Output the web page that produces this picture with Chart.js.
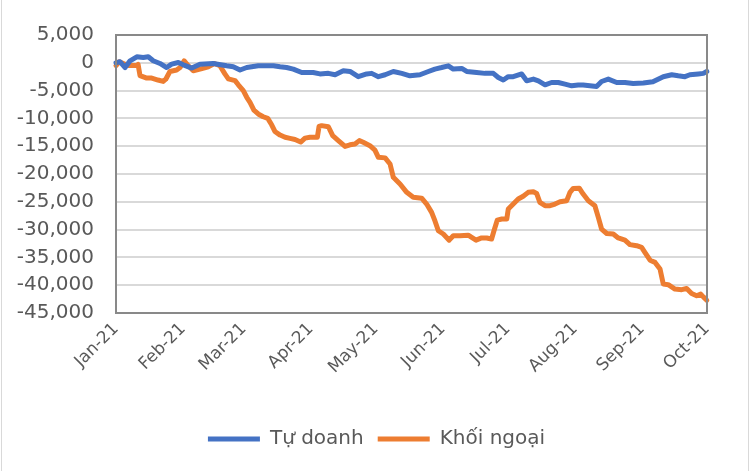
<!DOCTYPE html>
<html lang="vi">
<head>
    <meta charset="UTF-8">
    <title>Tự doanh vs Khối ngoại</title>
    <script src="https://cdn.jsdelivr.net/npm/chart.js"></script>
    <style>
        html, body { margin: 0; padding: 0; background: #fff; }
        #wrap { position: relative; width: 753px; height: 472px; }
        #wrap:before { content: ""; position: absolute; left: 1px; top: 0; width: 746px; height: 471px;
            border-left: 1px solid #d9d9d9; border-right: 1px solid #d9d9d9; pointer-events: none; }
    </style>
</head>
<body>
<div id="wrap"><canvas id="chart" width="753" height="472"></canvas></div>
<script>
// Month ticks (days since 1 Jan 2021) and their labels
const monthStarts = [0, 31, 59, 90, 120, 151, 181, 212, 243, 273];
const monthLabels = ["Jan-21", "Feb-21", "Mar-21", "Apr-21", "May-21", "Jun-21", "Jul-21", "Aug-21", "Sep-21", "Oct-21"];

// Tự doanh (blue), cumulative net value
const tuDoanhDays = [0, 1.8, 4.2, 6.5, 9.6, 12.6, 14.9, 17.2, 20.3, 23.4, 25.7, 28.8, 31.1, 35, 38.8, 44.9, 51.1, 54.2, 57.3, 60.4,
    65.7, 69.6, 72.7, 75.8, 78.8, 81.9, 85.8, 88.1, 91.1, 94.2, 98.1, 101.2, 105, 108.1, 111.9, 115.8, 118.1, 121.2, 124.3, 128.1,
    132, 135.8, 140.4, 144.3, 147.3, 150.4, 153.5, 155.8, 159.7, 162, 166.6, 170.4, 174.3, 176.6, 178.9, 181.2, 183.5, 187.4, 189.7, 192.8,
    195.1, 198.2, 201.2, 204.3, 207.4, 210.5, 213.5, 215.8, 218.9, 222, 224.3, 227.4, 231.3, 235.1, 238.9, 243.6, 248, 252.8, 256.7, 259.7,
    262.8, 265.1, 269, 271.3, 272.9];
const tuDoanh = [0, 200, -850, 360, 1080, 950, 1080, 360, -120, -850, -240, 60, -360, -950, -240, -120, -540, -720, -1300, -850,
    -540, -540, -540, -720, -850, -1130, -1750, -1750, -1750, -2000, -1900, -2150, -1440, -1560, -2500, -2000, -1900, -2500, -2150, -1560,
    -1900, -2340, -2150, -1560, -1130, -850, -540, -1130, -1020, -1560, -1750, -1900, -1900, -2640, -3100, -2500, -2500, -2000, -3240, -2930,
    -3240, -3960, -3540, -3540, -3830, -4140, -4010, -4010, -4140, -4260, -3360, -2930, -3540, -3540, -3720, -3650, -3420, -2500, -2150, -2340,
    -2500, -2150, -2000, -1900, -1560];

// Khối ngoại (orange)
const khoiNgoaiDays = [0, 1.5, 5.5, 9.6, 10.2, 11.1, 14.2, 16.5, 19.4, 21.8, 23, 24.9, 28, 29.6, 31.5, 33.4, 35.7, 38.8, 42.6, 45.4,
    48, 50.3, 51.9, 55, 56.5, 58.8, 60.4, 61.9, 63.7, 65.7, 68, 70.1, 71.9, 73.4, 75.8, 78.1, 80.4, 82.7, 85.3, 87.3,
    89.6, 93, 93.8, 95, 98.1, 100.1, 102.7, 105.8, 108.1, 110.4, 112.4, 114.2, 117.3, 119.6, 121.2, 124.3, 126.6, 128.1, 131.2, 134.3,
    137.3, 141.2, 143.5, 145.8, 147.3, 148.9, 151.2, 153.9, 155.8, 158.9, 162.7, 164.3, 166.3, 168.9, 171.2, 173.5, 174.6, 176.1, 178.2, 180.5,
    181.2, 183.5, 185.8, 188.1, 190.4, 192.8, 194.3, 195.8, 198.2, 200.5, 202.8, 205.1, 208.2, 209.7, 211.2, 214, 215.8, 218.2, 221.2, 222.8,
    224.3, 226.7, 229.7, 232, 235.1, 237.4, 240.5, 242.8, 244.3, 246.7, 249, 251.3, 252.8, 255.1, 258.2, 261.3, 263.6, 265.9, 268.2, 270.1,
    271.3, 272.9];
const khoiNgoai = [-500, 200, -500, -500, -300, -2300, -2750, -2750, -3100, -3350, -2950, -1560, -1300, -850, 360, -540, -1440, -1150, -720, -120,
    -540, -2000, -2900, -3200, -3950, -5000, -6200, -7100, -8500, -9200, -9700, -10000, -11150, -12350, -13000, -13400, -13600, -13800, -14250, -13550,
    -13400, -13400, -11450, -11300, -11500, -13100, -14000, -15050, -14750, -14600, -14000, -14300, -14900, -15700, -17000, -17100, -18200, -20600, -21800, -23300,
    -24200, -24350, -25400, -26900, -28400, -30200, -30800, -31900, -31100, -31100, -31000, -31400, -31900, -31500, -31500, -31700, -30200, -28300, -28100, -28100,
    -26300, -25400, -24500, -24000, -23300, -23200, -23500, -25100, -25700, -25700, -25400, -25000, -24800, -23300, -22600, -22550, -23600, -24800, -25700, -27800,
    -29900, -30700, -30800, -31500, -31900, -32700, -32900, -33200, -34100, -35500, -35900, -37100, -39800, -39900, -40700, -40800, -40600, -41500, -41900, -41600,
    -42100, -42700];

const toPoints = (xs, ys) => xs.map((x, i) => ({ x: x, y: ys[i] }));

const FONT = "'DejaVu Sans', sans-serif";
const TEXT = '#595959';

// grey frame around the plot area
const plotFrame = {
    id: 'plotFrame',
    afterDatasetsDraw(chart) {
        const a = chart.chartArea, ctx = chart.ctx;
        ctx.save();
        ctx.strokeStyle = '#898989';
        ctx.lineWidth = 2;
        ctx.strokeRect(a.left, a.top, a.right - a.left, a.bottom - a.top);
        ctx.restore();
    }
};

new Chart(document.getElementById('chart'), {
    type: 'line',
    data: {
        datasets: [
            {
                label: 'Tự doanh',
                data: toPoints(tuDoanhDays, tuDoanh),
                borderColor: '#4472C4',
                backgroundColor: '#4472C4',
                borderWidth: 5,
                borderCapStyle: 'round',
                borderJoinStyle: 'round',
                pointRadius: 0,
                tension: 0,
                clip: false
            },
            {
                label: 'Khối ngoại',
                data: toPoints(khoiNgoaiDays, khoiNgoai),
                borderColor: '#ED7D31',
                backgroundColor: '#ED7D31',
                borderWidth: 5,
                borderCapStyle: 'round',
                borderJoinStyle: 'round',
                pointRadius: 0,
                tension: 0,
                clip: false
            }
        ]
    },
    options: {
        responsive: false,
        animation: false,
        layout: { padding: { left: 0, right: 0, top: 35, bottom: 13 } },
        scales: {
            x: {
                type: 'linear',
                min: 0,
                max: 273,
                afterBuildTicks: axis => { axis.ticks = monthStarts.map(v => ({ value: v })); },
                afterFit: axis => { axis.height = 102; },
                grid: { display: false, drawTicks: false },
                border: { display: false },
                ticks: {
                    color: TEXT,
                    font: { family: FONT, size: 17 },
                    minRotation: 45,
                    maxRotation: 45,
                    padding: 6,
                    callback: v => monthLabels[monthStarts.indexOf(v)]
                }
            },
            y: {
                min: -45000,
                max: 5000,
                afterFit: axis => { axis.width = 116; },
                grid: { color: '#d9d9d9', lineWidth: 2, drawTicks: false },
                border: { display: false },
                ticks: {
                    stepSize: 5000,
                    color: TEXT,
                    font: { family: FONT, size: 20 },
                    padding: 22,
                    callback: v => v.toLocaleString('en-US')
                }
            },
            // empty right-hand axis that only reserves the space right of the plot
            yRight: {
                position: 'right',
                afterFit: axis => { axis.width = 46; },
                grid: { display: false, drawTicks: false },
                border: { display: false },
                ticks: { display: false }
            }
        },
        plugins: {
            legend: {
                position: 'bottom',
                labels: {
                    color: TEXT,
                    font: { family: FONT, size: 20 },
                    usePointStyle: true,
                    pointStyle: 'line',
                    pointStyleWidth: 52,
                    padding: 14
                }
            },
            tooltip: { enabled: false }
        }
    },
    plugins: [plotFrame]
});
</script>
</body>
</html>
